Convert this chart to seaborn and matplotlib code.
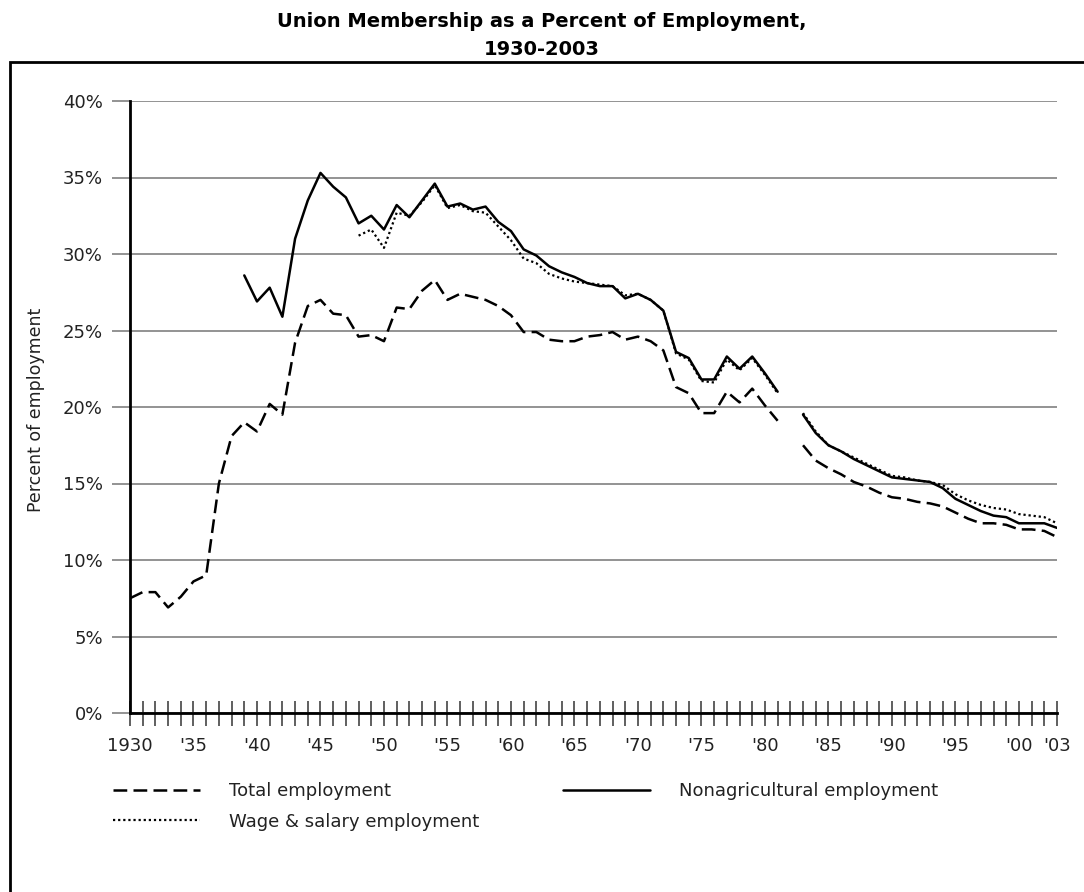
import numpy as np
import pandas as pd
import matplotlib
matplotlib.use('Agg')
import matplotlib.pyplot as plt
import seaborn as sns
from matplotlib.lines import Line2D
from matplotlib.patches import Rectangle

nan = np.nan

# union membership, percent of employment (1982 missing)
total_years = list(range(1930, 2004))
total_pct = [7.5, 7.9, 7.9, 6.9, 7.6, 8.6, 9.0, 15.0, 18.1, 19.0,
             18.4, 20.2, 19.5, 24.2, 26.6, 27.0, 26.1, 26.0, 24.6, 24.7,
             24.3, 26.5, 26.4, 27.6, 28.3, 27.0, 27.4, 27.2, 27.0, 26.6,
             26.0, 24.9, 24.9, 24.4, 24.3, 24.3, 24.6, 24.7, 24.9, 24.4,
             24.6, 24.3, 23.7, 21.3, 20.9, 19.6, 19.6, 21.0, 20.3, 21.2,
             20.1, 19.1, nan, 17.5, 16.5, 16.0, 15.6, 15.1, 14.8, 14.4,
             14.1, 14.0, 13.8, 13.7, 13.5, 13.1, 12.7, 12.4, 12.4, 12.3,
             12.0, 12.0, 11.9, 11.5]

nonag_years = list(range(1939, 2004))
nonag_pct = [28.6,
             26.9, 27.8, 25.9, 31.0, 33.5, 35.3, 34.4, 33.7, 32.0, 32.5,
             31.6, 33.2, 32.4, 33.5, 34.6, 33.1, 33.3, 32.9, 33.1, 32.1,
             31.5, 30.3, 29.9, 29.2, 28.8, 28.5, 28.1, 27.9, 27.9, 27.1,
             27.4, 27.0, 26.3, 23.6, 23.2, 21.8, 21.8, 23.3, 22.5, 23.3,
             22.2, 21.0, nan, 19.5, 18.3, 17.5, 17.1, 16.6, 16.2, 15.8,
             15.4, 15.3, 15.2, 15.1, 14.7, 14.0, 13.6, 13.2, 12.9, 12.8,
             12.4, 12.4, 12.4, 12.1]

wage_years = list(range(1948, 2004))
wage_pct = [31.2, 31.6,
            30.4, 32.7, 32.5, 33.4, 34.5, 33.0, 33.2, 32.8, 32.7, 31.8,
            30.9, 29.7, 29.4, 28.7, 28.4, 28.2, 28.1, 28.0, 27.9, 27.3,
            27.4, 27.0, 26.3, 23.5, 23.1, 21.7, 21.6, 23.1, 22.4, 23.2,
            22.1, 20.9, nan, 19.6, 18.4, 17.5, 17.1, 16.7, 16.3, 15.9,
            15.5, 15.4, 15.2, 15.1, 14.9, 14.3, 13.9, 13.6, 13.4, 13.3,
            13.0, 12.9, 12.8, 12.4]

tick_years = list(range(1930, 2004))
label_years = {1930: '1930', 1935: "'35", 1940: "'40", 1945: "'45", 1950: "'50",
               1955: "'55", 1960: "'60", 1965: "'65", 1970: "'70", 1975: "'75",
               1980: "'80", 1985: "'85", 1990: "'90", 1995: "'95", 2000: "'00",
               2003: "'03"}


def make_df(years, pct):
    # split the series at the 1982 gap so seaborn draws two pieces
    df = pd.DataFrame({'year': years, 'pct': pct})
    df['seg'] = (df['year'] > 1982).astype(int)
    return df.dropna()


sns.set_style("white")
plt.rcParams['font.family'] = ['DejaVu Sans']

fig = plt.figure(figsize=(10.84, 8.92), dpi=100)
ax = fig.add_axes([130 / 1084, 1 - 713 / 892, 927 / 1084, 612 / 892])

dash_style = (0, (5.5, 2.5))
dot_style = (0, (1.0, 1.3))

sns.lineplot(data=make_df(total_years, total_pct), x='year', y='pct', units='seg',
             estimator=None, color='black', lw=1.8, linestyle=dash_style, ax=ax, legend=False)
sns.lineplot(data=make_df(wage_years, wage_pct), x='year', y='pct', units='seg',
             estimator=None, color='black', lw=1.6, linestyle=dot_style, ax=ax, legend=False)
sns.lineplot(data=make_df(nonag_years, nonag_pct), x='year', y='pct', units='seg',
             estimator=None, color='black', lw=1.8, linestyle='-', ax=ax, legend=False)

ax.set_xlim(1930, 2003)
ax.set_ylim(0, 40)
ax.set_xlabel('')
ax.set_ylabel('')

ax.set_yticks(range(0, 41, 5))
ax.set_yticklabels([f'{v}%' for v in range(0, 41, 5)])
ax.set_xticks(tick_years)
ax.set_xticklabels([label_years.get(y, '') for y in tick_years])

ax.yaxis.grid(True, color='#808080', lw=1.2)
ax.xaxis.grid(False)
ax.set_axisbelow(True)

for side in ['top', 'right']:
    ax.spines[side].set_visible(False)
for side in ['left', 'bottom']:
    ax.spines[side].set_color('black')
    ax.spines[side].set_linewidth(2)

ax.tick_params(axis='y', left=True, length=13, width=1.2, color='#808080', pad=6.5,
               labelsize=13, labelcolor='#222222')
ax.tick_params(axis='x', bottom=True, direction='inout', length=18, width=1.2,
               color='#444444', pad=8, labelsize=13, labelcolor='#222222')

fig.text(36 / 1084, 1 - 410 / 892, 'Percent of employment', rotation=90,
         ha='center', va='center', fontsize=12.5, color='#222222')

fig.text(0.5, 1 - 27 / 892, 'Union Membership as a Percent of Employment,',
         ha='center', va='baseline', fontsize=14, weight='bold', color='black')
fig.text(0.5, 1 - 55 / 892, '1930-2003',
         ha='center', va='baseline', fontsize=14, weight='bold', color='black')

# outer box, open to the right and bottom
fig.patches.append(Rectangle((10 / 1084, -0.05), 1.2, 1.05 - 62 / 892,
                             transform=fig.transFigure, fill=False, lw=2,
                             ec='black', zorder=0))

h_total = Line2D([], [], color='black', lw=1.8, linestyle=dash_style)
h_wage = Line2D([], [], color='black', lw=1.6, linestyle=dot_style)
h_nonag = Line2D([], [], color='black', lw=1.8, linestyle='-')

leg_kw = dict(loc='upper left', frameon=False, fontsize=13, handlelength=4.8,
              handletextpad=1.6, labelspacing=0.7, borderaxespad=0, borderpad=0,
              labelcolor='#222222')
fig.legend([h_total, h_wage], ['Total employment', 'Wage & salary employment'],
           bbox_to_anchor=(113 / 1084, 1 - 782 / 892), **leg_kw)
fig.legend([h_nonag], ['Nonagricultural employment'],
           bbox_to_anchor=(563 / 1084, 1 - 782 / 892), **leg_kw)

fig.savefig('out.png', dpi=100)
